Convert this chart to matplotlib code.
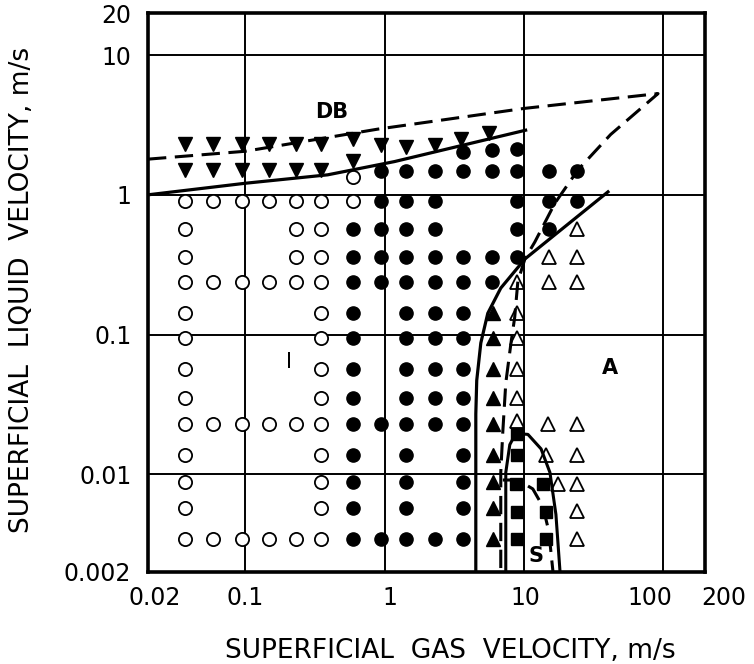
import matplotlib
matplotlib.use('Agg')
import matplotlib.pyplot as plt
import matplotlib.transforms as mtransforms

# ---- data ----
x_ticks = [0.02, 0.1, 1, 10, 100, 200]
x_ticklabels = ['0.02', '0.1', '1', '10', '100', '200']
y_ticks = [0.002, 0.01, 0.1, 1, 10, 20]
y_ticklabels = ['0.002', '0.01', '0.1', '1', '10', '20']

all_rows = [0.91, 0.57, 0.36, 0.237, 0.142, 0.095, 0.057, 0.035, 0.0228, 0.0138, 0.0088, 0.0057, 0.00345]

# open circles (intermittent, I)
open_circle_x = [0.037, 0.059, 0.095, 0.149, 0.233, 0.352, 0.59]
open_circle_y = [
    all_rows,
    [0.91, 0.237, 0.0228, 0.00345],
    [0.91, 0.237, 0.0228, 0.00345],
    [0.91, 0.237, 0.0228, 0.00345],
    [0.91, 0.57, 0.36, 0.237, 0.0228, 0.00345],
    all_rows,
    [1.34, 0.91],
]

# filled circles
filled_circle_x = [0.59, 0.94, 1.42, 2.29, 3.64, 5.9, 8.9, 15.1, 24.0]
filled_circle_y = [
    [0.57, 0.36, 0.237, 0.142, 0.095, 0.057, 0.035, 0.0228, 0.0138, 0.0088, 0.0057, 0.00345],
    [1.48, 0.91, 0.57, 0.36, 0.237, 0.0228, 0.00345],
    [1.48] + all_rows,
    [1.48, 0.91, 0.57, 0.36, 0.237, 0.142, 0.095, 0.057, 0.035, 0.0228, 0.00345],
    [2.02, 1.48, 0.36, 0.237, 0.142, 0.095, 0.057, 0.035, 0.0228, 0.0138, 0.0088, 0.0057, 0.00345],
    [2.09, 1.48, 0.36, 0.237],
    [2.13, 1.48, 0.91, 0.57, 0.36],
    [1.48, 0.91, 0.57],
    [1.48, 0.91],
]

# filled down triangles (dispersed bubble, DB)
db_tri_x = [0.037, 0.059, 0.095, 0.149, 0.233, 0.352, 0.59, 0.94, 1.42, 2.29, 3.52, 5.6]
db_tri_y = [
    [2.32, 1.51], [2.32, 1.51], [2.32, 1.51], [2.32, 1.51], [2.32, 1.51], [2.32, 1.51],
    [2.49, 1.76], [2.28], [2.2], [2.28], [2.49], [2.76],
]

# filled up triangles
filled_tri_x = [5.98]
filled_tri_y = [[0.142, 0.095, 0.057, 0.035, 0.0228, 0.0138, 0.0088, 0.0057, 0.00345]]

# open up triangles (annular, A)
open_tri_x = [8.9, 15.1, 24.0, 14.9, 14.4, 17.6]
open_tri_y = [
    [0.237, 0.142, 0.095, 0.057, 0.035, 0.024],
    [0.36, 0.237],
    [0.57, 0.36, 0.237, 0.0228, 0.0138, 0.0085, 0.0055, 0.00345],
    [0.0228],
    [0.0138],
    [0.0085],
]

# filled squares (stratified, S)
square_x = [8.9, 8.9, 8.8, 8.9, 8.9, 13.7, 14.4, 14.4]
square_y = [0.0193, 0.0138, 0.0085, 0.0054, 0.00345, 0.0085, 0.0054, 0.00345]

# boundary curves
db_solid_x = [0.02, 0.1, 0.39, 1.18, 10.3]
db_solid_y = [1.0, 1.21, 1.39, 1.73, 2.9]

dashed_x = [0.02, 0.1, 0.89, 10.0, 92, 42, 24.5, 16.7, 12.0, 10.2, 9.06, 8.6, 8.06, 7.42, 7.06, 6.83, 6.83]
dashed_y = [1.8, 2.05, 2.95, 4.15, 5.3, 2.7, 1.51, 0.87, 0.46, 0.35, 0.24, 0.133, 0.085, 0.045, 0.020, 0.0103, 0.002]

annular_x = [40.2, 10.2, 6.83, 5.51, 4.91, 4.59, 4.52, 4.52]
annular_y = [1.05, 0.348, 0.215, 0.142, 0.087, 0.047, 0.027, 0.002]

s_solid_x = [7.42, 7.42, 7.93, 8.76, 10.7, 13.3, 15.4, 17.0, 18.2]
s_solid_y = [0.002, 0.0103, 0.0163, 0.0196, 0.0193, 0.0152, 0.0103, 0.00516, 0.002]

s_dashed_x = [7.06, 9.06, 11.6, 13.7, 15.1, 16.2]
s_dashed_y = [0.0091, 0.0091, 0.00786, 0.00588, 0.00393, 0.002]

# regime labels
regime_text = ['DB', 'I', 'A', 'S']
regime_x = [0.42, 0.207, 41.6, 12.2]
regime_y = [3.9, 0.064, 0.058, 0.0026]

# ---- figure ----
fig = plt.figure(figsize=(7.54, 6.64), dpi=100)
ax = fig.add_axes([0.1963, 0.1386, 0.7387, 0.8418])
ax.set_xscale('log')
ax.set_yscale('log')
ax.set_xlim(0.02, 200)
ax.set_ylim(0.002, 20)

ms_c = 9.5
for x, ys in zip(open_circle_x, open_circle_y):
    ax.plot([x] * len(ys), ys, 'o', ms=ms_c, mfc='white', mec='k', mew=1.3, zorder=3)
for x, ys in zip(filled_circle_x, filled_circle_y):
    ax.plot([x] * len(ys), ys, 'o', ms=ms_c, mfc='k', mec='k', zorder=3)
for x, ys in zip(db_tri_x, db_tri_y):
    ax.plot([x] * len(ys), ys, 'v', ms=10.5, mfc='k', mec='k', zorder=3)
for x, ys in zip(filled_tri_x, filled_tri_y):
    ax.plot([x] * len(ys), ys, '^', ms=10.5, mfc='k', mec='k', zorder=3)
for x, ys in zip(open_tri_x, open_tri_y):
    ax.plot([x] * len(ys), ys, '^', ms=10.5, mfc='white', mec='k', mew=1.3, zorder=3)
ax.plot(square_x, square_y, 's', ms=8.5, mfc='k', mec='k', zorder=3, ls='none')

ax.plot(db_solid_x, db_solid_y, 'k-', lw=2.3, zorder=4)
ax.plot(dashed_x, dashed_y, color='k', lw=2.2, ls=(0, (6, 2.8)), zorder=4)
ax.plot(annular_x, annular_y, 'k-', lw=2.3, zorder=4)
ax.plot(s_solid_x, s_solid_y, 'k-', lw=2.2, zorder=4)
ax.plot(s_dashed_x, s_dashed_y, color='k', lw=2.2, ls=(0, (6, 2.8)), zorder=4)

for t, x, y in zip(regime_text, regime_x, regime_y):
    ax.text(x, y, t, ha='center', va='center', fontsize=15,
            fontweight='normal' if t == 'I' else 'bold', zorder=5)

ax.set_xticks(x_ticks)
ax.set_xticklabels(x_ticklabels)
ax.set_yticks(y_ticks)
ax.set_yticklabels(y_ticklabels)
ax.minorticks_off()
ax.tick_params(length=0, labelsize=17, pad=12)
ax.tick_params(axis='x', pad=10)
ax.grid(True, which='major', color='k', lw=1.4)
for s in ax.spines.values():
    s.set_linewidth(2.6)

# the hand-lettered tick labels sit a little off their grid lines
x_label_shift = [5, 0, 4, 1, -9.5, 13.5]   # points
for lab, dx in zip(ax.get_xticklabels(), x_label_shift):
    lab.set_transform(lab.get_transform() +
                      mtransforms.ScaledTranslation(dx / 72, 0, fig.dpi_scale_trans))

ax.set_xlabel('SUPERFICIAL  GAS  VELOCITY, m/s', fontsize=19, va='center')
ax.xaxis.set_label_coords(0.542, -0.141)
ax.set_ylabel('SUPERFICIAL  LIQUID  VELOCITY, m/s', fontsize=19, va='center')
ax.yaxis.set_label_coords(-0.226, 0.504)

fig.savefig('out.png', dpi=100)
